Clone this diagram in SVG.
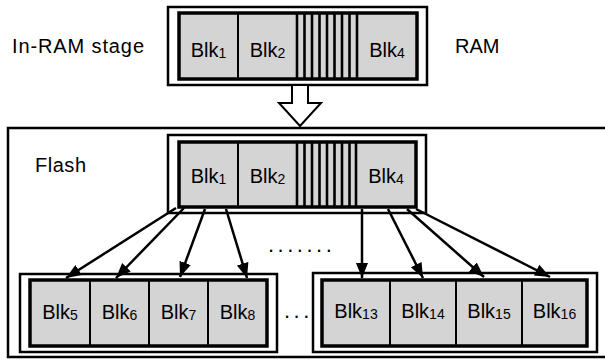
<svg xmlns="http://www.w3.org/2000/svg" width="605" height="360" viewBox="0 0 605 360">
<style>
text{font-family:"Liberation Sans",Arial,sans-serif;fill:#000}
.lbl{font-size:20px}
.blk{font-size:20px;text-anchor:middle}
.sub{font-size:14px}
.outer{fill:#fff;stroke:#000;stroke-width:2.5}
.inner{fill:#d4d4d4;stroke:#000;stroke-width:3.5}
.div{stroke:#000;stroke-width:2}
.stripe{stroke:#000;stroke-width:2.6}
.conn{stroke:#000;stroke-width:2.5;fill:none;marker-end:url(#ah)}
.dots{font-size:22px;letter-spacing:3.5px}
</style>
<defs>
<marker id="ah" markerUnits="userSpaceOnUse" markerWidth="16" markerHeight="16" viewBox="0 0 16 16" refX="15" refY="8" orient="auto">
<path d="M0,2 L15,8 L0,14 Z" fill="#000"/>
</marker>
</defs>
<g id="flash-area">
<rect x="8" y="128" width="620" height="229" fill="none" stroke="#000" stroke-width="2.5"/>
<text class="lbl" x="35" y="172" textLength="51" lengthAdjust="spacing">Flash</text>
</g>
<g id="ram-labels">
<text class="lbl" x="12" y="53" textLength="132" lengthAdjust="spacing">In-RAM stage</text>
<text class="lbl" x="455" y="53">RAM</text>
</g>
<g id="ram-stage">
<rect class="outer" x="168" y="7" width="259" height="78"/>
<rect class="inner" x="179" y="13" width="238" height="66"/>
<line class="div" x1="238" y1="13" x2="238" y2="79"/>
<line class="stripe" x1="297" y1="13" x2="297" y2="79"/>
<line class="stripe" x1="304.5" y1="13" x2="304.5" y2="79"/>
<line class="stripe" x1="312" y1="13" x2="312" y2="79"/>
<line class="stripe" x1="319.5" y1="13" x2="319.5" y2="79"/>
<line class="stripe" x1="327" y1="13" x2="327" y2="79"/>
<line class="stripe" x1="334.5" y1="13" x2="334.5" y2="79"/>
<line class="stripe" x1="342" y1="13" x2="342" y2="79"/>
<line class="stripe" x1="349.5" y1="13" x2="349.5" y2="79"/>
<line class="stripe" x1="357" y1="13" x2="357" y2="79"/>
<text class="blk" x="208.5" y="57">Blk<tspan class="sub" dy="1">1</tspan></text>
<text class="blk" x="267.5" y="57">Blk<tspan class="sub" dy="1">2</tspan></text>
<text class="blk" x="387" y="57">Blk<tspan class="sub" dy="1">4</tspan></text>
</g>
<g id="flash-stage">
<rect class="outer" x="168" y="135" width="258" height="78"/>
<rect class="inner" x="179" y="142" width="237" height="65"/>
<line class="div" x1="238" y1="142" x2="238" y2="207"/>
<line class="stripe" x1="297" y1="142" x2="297" y2="207"/>
<line class="stripe" x1="304.5" y1="142" x2="304.5" y2="207"/>
<line class="stripe" x1="312" y1="142" x2="312" y2="207"/>
<line class="stripe" x1="319.5" y1="142" x2="319.5" y2="207"/>
<line class="stripe" x1="327" y1="142" x2="327" y2="207"/>
<line class="stripe" x1="334.5" y1="142" x2="334.5" y2="207"/>
<line class="stripe" x1="342" y1="142" x2="342" y2="207"/>
<line class="stripe" x1="349.5" y1="142" x2="349.5" y2="207"/>
<line class="stripe" x1="356" y1="142" x2="356" y2="207"/>
<text class="blk" x="208.5" y="183">Blk<tspan class="sub" dy="1">1</tspan></text>
<text class="blk" x="267.5" y="183">Blk<tspan class="sub" dy="1">2</tspan></text>
<text class="blk" x="386" y="183">Blk<tspan class="sub" dy="1">4</tspan></text>
</g>
<g id="group-left">
<rect class="outer" x="20" y="274" width="257" height="78"/>
<rect class="inner" x="30" y="280" width="237" height="66"/>
<line class="div" x1="90" y1="280" x2="90" y2="346"/>
<line class="div" x1="149" y1="280" x2="149" y2="346"/>
<line class="div" x1="208" y1="280" x2="208" y2="346"/>
<text class="blk" x="60" y="319">Blk<tspan class="sub" dy="1">5</tspan></text>
<text class="blk" x="119.5" y="319">Blk<tspan class="sub" dy="1">6</tspan></text>
<text class="blk" x="178.5" y="319">Blk<tspan class="sub" dy="1">7</tspan></text>
<text class="blk" x="237.5" y="319">Blk<tspan class="sub" dy="1">8</tspan></text>
</g>
<g id="group-right">
<rect class="outer" x="313" y="273" width="284" height="79"/>
<rect class="inner" x="322" y="280" width="265" height="66"/>
<line class="div" x1="390" y1="280" x2="390" y2="346"/>
<line class="div" x1="456" y1="280" x2="456" y2="346"/>
<line class="div" x1="522" y1="280" x2="522" y2="346"/>
<text class="blk" x="356" y="318">Blk<tspan class="sub" dy="1">13</tspan></text>
<text class="blk" x="423" y="318">Blk<tspan class="sub" dy="1">14</tspan></text>
<text class="blk" x="489" y="318">Blk<tspan class="sub" dy="1">15</tspan></text>
<text class="blk" x="554.5" y="318">Blk<tspan class="sub" dy="1">16</tspan></text>
</g>
<g id="ellipses">
<text class="dots" x="268" y="252">.......</text>
<text class="dots" x="284" y="318">...</text>
</g>
<g id="connectors">
<polygon points="292,85 308,85 308,103 321,103 300,126 279,103 292,103" fill="#fff" stroke="#000" stroke-width="2"/>
<line class="conn" x1="176" y1="208" x2="66" y2="278"/>
<line class="conn" x1="184" y1="208" x2="116" y2="278"/>
<line class="conn" x1="205" y1="209" x2="180" y2="277"/>
<line class="conn" x1="226" y1="209" x2="247" y2="278"/>
<line class="conn" x1="362" y1="209" x2="362" y2="278"/>
<line class="conn" x1="388" y1="209" x2="423" y2="278"/>
<line class="conn" x1="407" y1="209" x2="484" y2="277"/>
<line class="conn" x1="416" y1="209" x2="550" y2="277"/>
</g>
</svg>
